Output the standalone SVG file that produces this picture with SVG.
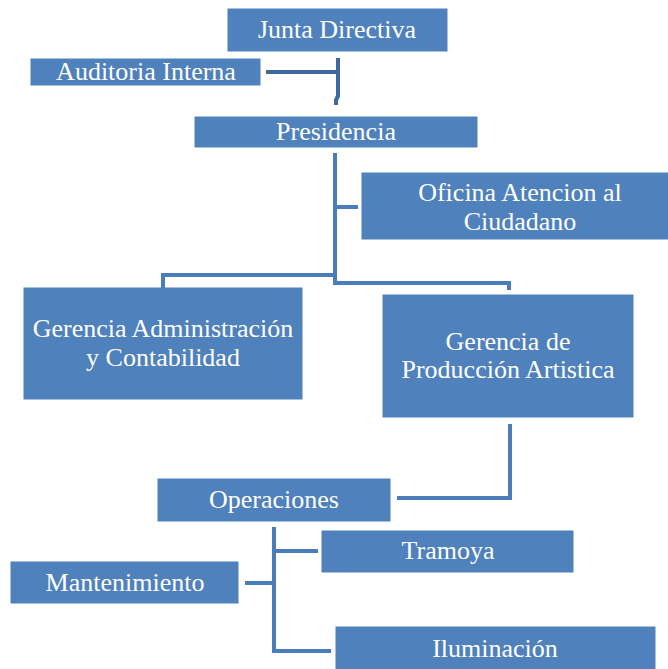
<svg xmlns="http://www.w3.org/2000/svg" width="668" height="669" viewBox="0 0 668 669">
<style>
.box{fill:#4F81BD;stroke:#4F81BD;stroke-width:1}
.t{font-family:'Liberation Serif','Times New Roman',serif;font-size:26px;fill:#FFFFFF;text-anchor:middle}
.c{fill:none;stroke:#4A7EBB;stroke-width:4;stroke-linejoin:miter}
.cd{fill:none;stroke:#3F6A9E;stroke-width:4}
</style>
<rect width="668" height="669" fill="#FFFFFF"/>
<g id="connectors">
<path class="cd" d="M266 72 H338 M338 58 V96 L336 100 V105"/>
<path class="c" d="M335 153 V273 M335 207 H358 M335 275 H163 V288 M335 273 V283 H509 V290"/>
<path class="c" d="M510 424 V498 H397"/>
<path class="c" d="M274 527 V651 H331 M274 551 H318 M245 583 H274"/>
</g>
<g id="junta"><rect class="box" x="228" y="9" width="219" height="42"/><text class="t" x="337" y="38">Junta Directiva</text></g>
<g id="auditoria"><rect class="box" x="31" y="59" width="229" height="26"/><text class="t" x="146" y="80">Auditoria Interna</text></g>
<g id="presidencia"><rect class="box" x="195" y="117" width="282" height="30"/><text class="t" x="336" y="140">Presidencia</text></g>
<g id="oficina"><rect class="box" x="362" y="173" width="308" height="66"/><text class="t" x="520" y="201">Oficina Atencion al</text><text class="t" x="520" y="230">Ciudadano</text></g>
<g id="admin"><rect class="box" x="24" y="288" width="278" height="111"/><text class="t" x="163" y="337">Gerencia Administración</text><text class="t" x="163" y="366">y Contabilidad</text></g>
<g id="produccion"><rect class="box" x="383" y="295" width="250" height="122"/><text class="t" x="508" y="350">Gerencia de</text><text class="t" x="508" y="378">Producción Artistica</text></g>
<g id="operaciones"><rect class="box" x="158" y="479" width="232" height="42"/><text class="t" x="274" y="508">Operaciones</text></g>
<g id="tramoya"><rect class="box" x="322" y="531" width="251" height="41"/><text class="t" x="448" y="559">Tramoya</text></g>
<g id="mantenimiento"><rect class="box" x="11" y="562" width="227" height="41"/><text class="t" x="125" y="591">Mantenimiento</text></g>
<g id="iluminacion"><rect class="box" x="336" y="627" width="319" height="45"/><text class="t" x="495" y="657">Iluminación</text></g>
</svg>
